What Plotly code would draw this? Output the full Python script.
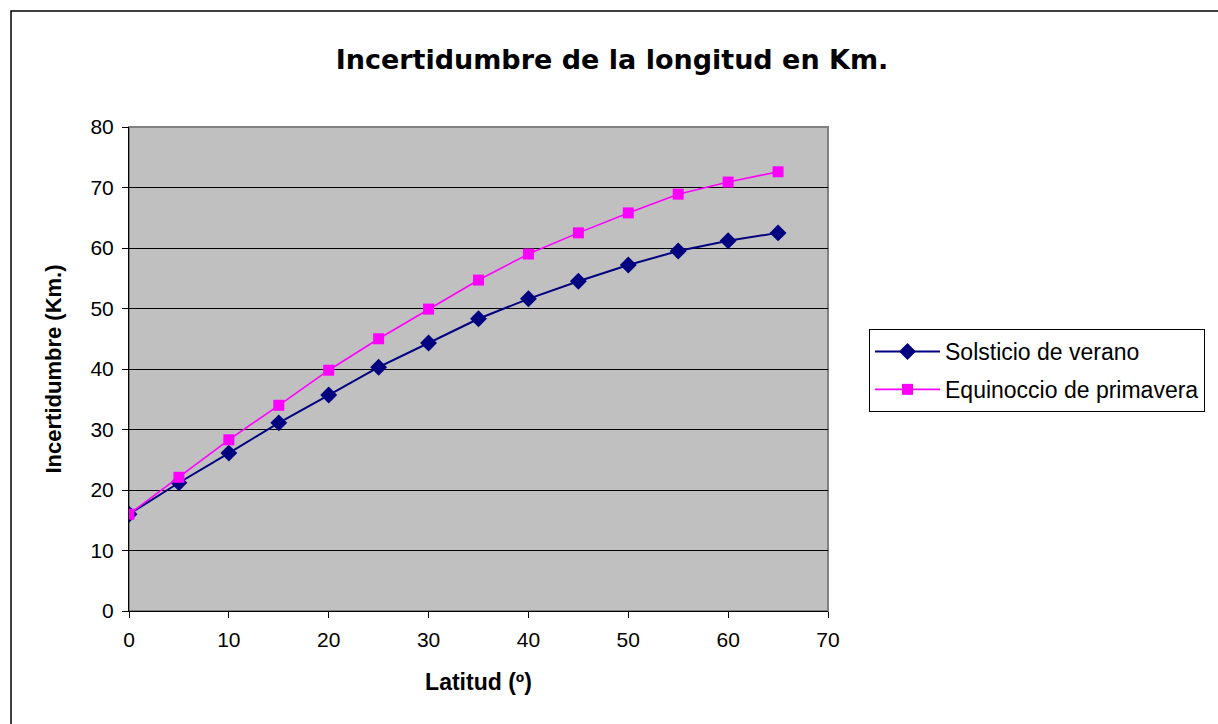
import plotly.graph_objects as go

# Latitude (degrees) and longitude uncertainty (km) for two dates
latitud = [0, 5, 10, 15, 20, 25, 30, 35, 40, 45, 50, 55, 60, 65]
solsticio_verano = [16.0, 21.2, 26.1, 31.1, 35.7, 40.3, 44.3, 48.3, 51.6, 54.5, 57.2, 59.5, 61.2, 62.5]
equinoccio_primavera = [16.0, 22.1, 28.3, 34.0, 39.8, 45.0, 49.9, 54.7, 59.0, 62.5, 65.8, 68.9, 70.9, 72.6]

x_ticks = [0, 10, 20, 30, 40, 50, 60, 70]
y_ticks = [0, 10, 20, 30, 40, 50, 60, 70, 80]

FONT = "Liberation Sans, Arial, sans-serif"
TITLE_FONT = "DejaVu Sans, Liberation Sans, sans-serif"

fig = go.Figure()
fig.add_trace(go.Scatter(
    x=latitud, y=solsticio_verano, name="Solsticio de verano",
    legendgroup="a", mode="lines+markers",
    line=dict(color="#000080", width=2),
    marker=dict(symbol="diamond", size=13, color="#000080"),
))
fig.add_trace(go.Scatter(
    x=latitud, y=equinoccio_primavera, name="Equinoccio de primavera",
    legendgroup="b", mode="lines+markers",
    line=dict(color="#FF00FF", width=1.6),
    marker=dict(symbol="square", size=11, color="#FF00FF"),
))

W, H = 1218, 724
L, R, T, B = 129, 390, 127, 113
pw, ph = W - L - R, H - T - B


def px_x(p):
    return (p - L) / pw


def px_y(p):
    return (H - B - p) / ph


fig.update_layout(
    width=W, height=H,
    margin=dict(l=L, r=R, t=T, b=B),
    paper_bgcolor="white",
    plot_bgcolor="#C0C0C0",
    font=dict(family=FONT, color="black", size=21),
    title=dict(
        text="<b>Incertidumbre de la longitud en Km.</b>",
        font=dict(family=TITLE_FONT, size=27, color="black"),
        x=px_x(612), xanchor="center", xref="paper",
        y=1 - 60 / H, yanchor="middle",
    ),
    xaxis=dict(
        range=[0, 70], tickvals=x_ticks, showgrid=False, zeroline=False,
        showline=True, linecolor="black", linewidth=1,
        ticks="outside", ticklen=6, tickcolor="black",
        tickfont=dict(size=21), ticklabelstandoff=4,
        title=dict(text="<b>Latitud (º)</b>", font=dict(size=23), standoff=23),
    ),
    yaxis=dict(
        range=[0, 80], tickvals=y_ticks, showgrid=True, gridcolor="black",
        gridwidth=1, zeroline=False,
        showline=True, linecolor="black", linewidth=1,
        ticks="outside", ticklen=6, tickcolor="black",
        tickfont=dict(size=21), ticklabelstandoff=4,
        title=dict(text="<b>Incertidumbre (Km.)</b>", font=dict(size=22), standoff=22),
    ),
    legend=dict(
        x=px_x(869), y=px_y(329), xanchor="left", yanchor="top",
        bordercolor="black", borderwidth=1, bgcolor="white",
        font=dict(size=23), traceorder="grouped", tracegroupgap=5,
        itemwidth=65,
    ),
    showlegend=True,
    shapes=[
        # plot area frame
        dict(type="rect", xref="paper", yref="paper", x0=0, y0=0, x1=1, y1=1,
             line=dict(color="#808080", width=2), layer="below"),
        # chart outer border
        dict(type="rect", xref="paper", yref="paper",
             x0=px_x(11), y0=px_y(740), x1=px_x(1240), y1=px_y(11),
             line=dict(color="black", width=1.5)),
    ],
)

fig.write_html("out.html")
